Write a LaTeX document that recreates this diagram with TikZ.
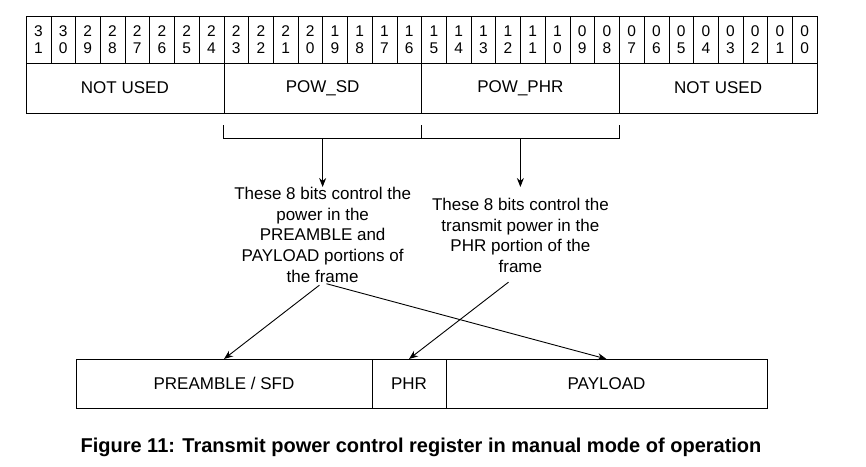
\documentclass[tikz,border=0pt]{standalone}
\usepackage{fontspec}
\setmainfont{Liberation Sans}
\usetikzlibrary{arrows.meta, positioning, calc}

\begin{document}
\begin{tikzpicture}[
        x=1pt, y=-1pt,
        bitcell/.style={draw, minimum width=24.72pt, minimum height=47pt, inner sep=0pt, outer sep=0pt, align=center, font=\fontsize{15.5}{16.5}\selectfont},
        field/.style={draw, minimum width=197.75pt, minimum height=50pt, inner sep=0pt, outer sep=0pt, font=\fontsize{17}{20}\selectfont},
        note/.style={align=center, inner sep=0pt, font=\fontsize{17}{20.7}\selectfont},
        slot/.style={draw, minimum height=49pt, inner sep=0pt, outer sep=0pt, font=\fontsize{17}{20}\selectfont},
        arr/.style={-{Stealth[length=9pt, width=7pt]}, line width=0.9pt},
        link/.style={line width=1pt}
    ]
        \useasboundingbox (0,0) rectangle (866,466);

        % Bit numbers
        \foreach \b [count=\i from 0] in {31,...,0} {
            \pgfmathtruncatemacro\tens{\b/10}
            \pgfmathtruncatemacro\ones{mod(\b,10)}
            \node[bitcell] (b\b) at ({26+24.72*(\i+0.5)}, 39.5) {\tens\\\ones};
        }

        % Fields
        \node[field, anchor=north west] (unusedhi) at (b31.south west) {NOT USED};
        \node[field, right=0pt of unusedhi] (powsd) {POW\_SD};
        \node[field, right=0pt of powsd] (powphr) {POW\_PHR};
        \node[field, right=0pt of powphr] (unusedlo) {NOT USED};

        % Bracket
        \coordinate (brA) at ($(powsd.south west)+(0,12)$);
        \coordinate (brB) at ($(powsd.south east)+(0,12)$);
        \coordinate (brC) at ($(powphr.south east)+(0,12)$);
        \coordinate (sdmid) at ($(powsd.south)+(0,25)$);
        \coordinate (phrmid) at ($(powphr.south)+(0,25)$);
        \draw[link] (brA) -- ++(0,13) -| (brC);
        \draw[link] (brB) -- ++(0,13);

        % Notes
        \node[note, anchor=north] (sdnote) at ($(sdmid)+(0,49)$)
            {These 8 bits control the\\power in the\\PREAMBLE and\\PAYLOAD portions of\\the frame};
        \node[note, anchor=north] (phrnote) at ($(phrmid)+(0,60)$)
            {These 8 bits control the\\transmit power in the\\PHR portion of the\\frame};
        \draw[arr] (sdmid) -- (sdnote);
        \draw[arr, shorten >=11pt] (phrmid) -- (phrnote);

        % Frame
        \node[slot, minimum width=296pt, anchor=north west] (preamble) at (76,359) {PREAMBLE / SFD};
        \node[slot, minimum width=74pt, right=0pt of preamble] (phr) {PHR};
        \node[slot, minimum width=321pt, right=0pt of phr] (payload) {PAYLOAD};

        \draw[arr, shorten <=4pt] (sdnote.south) -- (preamble.north);
        \draw[arr, shorten <=4pt] (sdnote.south) -- (payload.north);
        \draw[arr, shorten <=15pt] (phrnote.south) -- (phr.north);

        % Caption
        \node[anchor=base, inner sep=0pt, font=\bfseries\fontsize{20}{24}\selectfont] (caption) at (421,452)
            {Figure 11: Transmit power control register in manual mode of operation};
    \end{tikzpicture}
\end{document}
